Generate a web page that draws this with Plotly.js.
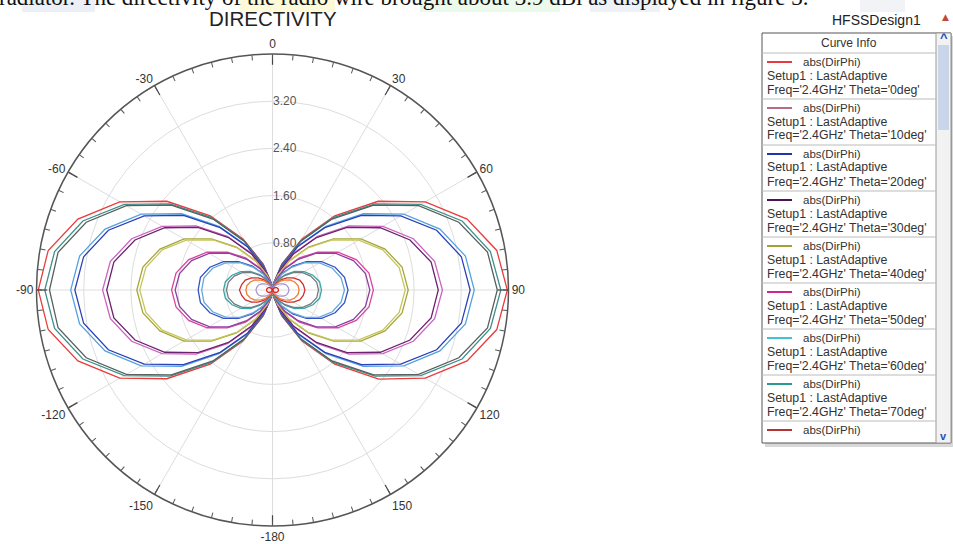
<!DOCTYPE html>
<html><head><meta charset="utf-8">
<script src="https://cdn.plot.ly/plotly-3.0.1.min.js"></script>
<style>html,body{margin:0;padding:0;background:#fff;}#chart{width:953px;height:544px;}</style>
</head><body><div id="chart"></div>
<script>
// Phi angles (deg)
const phi = [-180,-170,-160,-150,-140,-130,-120,-110,-100,-90,-80,-70,-60,-50,-40,-30,-20,-10,0,10,20,30,40,50,60,70,80,90,100,110,120,130,140,150,160,170,180];

// abs(DirPhi) values, one array per curve (largest to smallest)
const c01 = [0,0.12,0.47,1.00,1.64,2.34,2.99,3.51,3.86,3.97,3.86,3.51,2.99,2.34,1.64,1.00,0.47,0.12,0,0.12,0.47,1.00,1.64,2.34,2.99,3.51,3.86,3.98,3.86,3.51,2.99,2.35,1.64,1.00,0.47,0.12,0];
const c02 = [0,0.12,0.45,0.97,1.60,2.27,2.90,3.42,3.75,3.86,3.75,3.42,2.90,2.27,1.60,0.97,0.45,0.12,0,0.12,0.45,0.97,1.60,2.27,2.90,3.42,3.75,3.87,3.75,3.42,2.90,2.27,1.60,0.97,0.45,0.12,0];
const c03 = [0,0.11,0.45,0.95,1.57,2.24,2.86,3.36,3.69,3.78,3.69,3.36,2.86,2.24,1.57,0.95,0.45,0.11,0,0.11,0.45,0.95,1.57,2.24,2.86,3.36,3.70,3.81,3.70,3.36,2.86,2.24,1.57,0.95,0.45,0.11,0];
const c04 = [0,0.10,0.40,0.86,1.41,2.01,2.57,3.02,3.32,3.42,3.32,3.02,2.57,2.01,1.41,0.86,0.40,0.10,0,0.10,0.40,0.86,1.41,2.01,2.57,3.02,3.32,3.42,3.32,3.02,2.57,2.01,1.41,0.86,0.40,0.10,0];
const c05 = [0,0.10,0.39,0.84,1.38,1.97,2.51,2.96,3.25,3.35,3.25,2.96,2.51,1.97,1.38,0.84,0.39,0.10,0,0.10,0.39,0.84,1.38,1.97,2.51,2.96,3.25,3.35,3.25,2.96,2.51,1.97,1.38,0.84,0.39,0.10,0];
const c06 = [0,0.09,0.34,0.72,1.19,1.69,2.16,2.54,2.79,2.88,2.79,2.54,2.16,1.69,1.19,0.72,0.34,0.09,0,0.09,0.34,0.72,1.19,1.69,2.16,2.54,2.79,2.88,2.79,2.54,2.16,1.69,1.19,0.72,0.34,0.09,0];
const c07 = [0,0.08,0.33,0.70,1.16,1.65,2.11,2.48,2.73,2.81,2.73,2.48,2.11,1.65,1.16,0.70,0.33,0.08,0,0.08,0.33,0.70,1.16,1.65,2.11,2.48,2.73,2.81,2.73,2.48,2.11,1.65,1.16,0.70,0.33,0.08,0];
const c08 = [0,0.07,0.27,0.58,0.95,1.35,1.73,2.03,2.23,2.30,2.23,2.03,1.73,1.35,0.95,0.58,0.27,0.07,0,0.07,0.27,0.58,0.95,1.35,1.73,2.03,2.23,2.30,2.23,2.03,1.73,1.35,0.95,0.58,0.27,0.07,0];
const c09 = [0,0.07,0.26,0.56,0.93,1.32,1.69,1.99,2.18,2.25,2.18,1.99,1.69,1.32,0.93,0.56,0.26,0.07,0,0.07,0.26,0.56,0.93,1.32,1.69,1.99,2.18,2.25,2.18,1.99,1.69,1.32,0.93,0.56,0.26,0.07,0];
const c10 = [0,0.05,0.20,0.43,0.71,1.00,1.28,1.51,1.66,1.71,1.66,1.51,1.28,1.00,0.71,0.43,0.20,0.05,0,0.05,0.20,0.43,0.71,1.00,1.28,1.51,1.66,1.71,1.66,1.51,1.28,1.00,0.71,0.43,0.20,0.05,0];
const c11 = [0,0.05,0.19,0.41,0.68,0.97,1.24,1.46,1.60,1.65,1.60,1.46,1.24,0.97,0.68,0.41,0.19,0.05,0,0.05,0.19,0.41,0.68,0.97,1.24,1.46,1.60,1.65,1.60,1.46,1.24,0.97,0.68,0.41,0.19,0.05,0];
const c12 = [0,0.04,0.15,0.32,0.53,0.75,0.96,1.13,1.24,1.26,1.24,1.13,0.96,0.75,0.53,0.32,0.15,0.04,0,0.04,0.15,0.32,0.53,0.75,0.96,1.13,1.24,1.28,1.24,1.13,0.96,0.75,0.53,0.32,0.15,0.04,0];
const c13 = [0,0.04,0.14,0.31,0.50,0.72,0.92,1.08,1.18,1.20,1.18,1.08,0.92,0.72,0.50,0.31,0.14,0.04,0,0.04,0.14,0.31,0.50,0.72,0.92,1.08,1.18,1.22,1.18,1.08,0.92,0.72,0.50,0.31,0.14,0.04,0];
const c14 = [0,0.02,0.10,0.21,0.34,0.49,0.62,0.73,0.81,0.83,0.81,0.73,0.62,0.49,0.34,0.21,0.10,0.02,0,0.02,0.10,0.21,0.34,0.49,0.62,0.73,0.81,0.83,0.81,0.73,0.62,0.49,0.34,0.21,0.10,0.02,0];
const c15 = [0,0.02,0.09,0.20,0.32,0.46,0.59,0.69,0.76,0.78,0.76,0.69,0.59,0.46,0.32,0.20,0.09,0.02,0,0.02,0.09,0.20,0.32,0.46,0.59,0.69,0.76,0.78,0.76,0.69,0.59,0.46,0.32,0.20,0.09,0.02,0];
const c16 = [0,0.02,0.06,0.14,0.23,0.32,0.41,0.49,0.53,0.56,0.53,0.49,0.41,0.32,0.23,0.14,0.06,0.02,0,0.02,0.06,0.14,0.23,0.32,0.41,0.49,0.53,0.55,0.53,0.49,0.41,0.32,0.23,0.14,0.06,0.02,0];
const c17 = [0,0.01,0.05,0.11,0.19,0.26,0.34,0.40,0.44,0.45,0.44,0.40,0.34,0.26,0.19,0.11,0.05,0.01,0,0.01,0.05,0.11,0.19,0.26,0.34,0.40,0.44,0.45,0.44,0.40,0.34,0.26,0.19,0.11,0.05,0.01,0];
const c18 = [0,0.01,0.03,0.07,0.12,0.16,0.21,0.25,0.27,0.28,0.27,0.25,0.21,0.16,0.12,0.07,0.03,0.01,0,0.01,0.03,0.07,0.12,0.16,0.21,0.25,0.27,0.28,0.27,0.25,0.21,0.16,0.12,0.07,0.03,0.01,0];
const c19 = [0,0.00,0.01,0.03,0.04,0.06,0.08,0.09,0.10,0.10,0.10,0.09,0.08,0.06,0.04,0.03,0.01,0.00,0,0.00,0.01,0.03,0.04,0.06,0.08,0.09,0.10,0.10,0.10,0.09,0.08,0.06,0.04,0.03,0.01,0.00,0];

const curves = [c01,c02,c03,c04,c05,c06,c07,c08,c09,c10,c11,c12,c13,c14,c15,c16,c17,c18,c19];
const curveColors = ['#ec3b3b','#3f8f8b','#56625f','#55a2e0','#2b40b8','#cc62c2','#6c226c','#a6a63a','#c6c65c','#d8469e','#8e40a2','#3452c8','#64a8d8','#3aa5a5','#737c82','#cc3030','#f07c32','#a898d0','#e02222'];

// Legend (Curve Info) entries
const legendThetas = ['0deg','10deg','20deg','30deg','40deg','50deg','60deg','70deg','80deg'];
const legendColors = ['#e8393f','#b56a86','#2233aa','#4a1452','#a3a334','#d0258e','#44c2d2','#2a9a92','#b33434'];

// Angular tick labels
const angTickVals = [0,30,60,90,120,150,180,210,240,270,300,330];
const angTickText = ['0','30','60','90','120','150','-180','-150','-120','-90','-60','-30'];
const minorTickVals = [];
for (let a = 0; a < 360; a += 5) minorTickVals.push(a);
const radTickVals = [0.8,1.6,2.4,3.2];
const radTickText = ['0.80','1.60','2.40','3.20'];

const W = 953, H = 544;
const px = x => x / W;
const py = y => 1 - y / H;

const cx = 272.5, cy = 290, R = 236;

const traces = curves.map((r, i) => ({
  type: 'scatterpolar', mode: 'lines', r: r, theta: phi, subplot: 'polar',
  line: {color: curveColors[i], width: 1.3}, showlegend: false, hoverinfo: 'skip'
}));
traces.push({type: 'scatterpolar', mode: 'markers', r: [0], theta: [0], subplot: 'polar2',
  marker: {opacity: 0}, showlegend: false, hoverinfo: 'skip'});

const shapes = [];
const annotations = [];

// faint highlight boxes behind cut-off sentence
[[22,95,'rgba(200,210,225,0.35)'],[240,335,'rgba(250,245,170,0.45)'],[420,560,'rgba(200,240,200,0.35)'],[590,660,'rgba(200,210,225,0.3)'],[860,905,'rgba(210,215,225,0.3)']].forEach(h => {
  shapes.push({type:'rect', xref:'paper', yref:'paper', x0:px(h[0]), x1:px(h[1]), y0:py(12), y1:py(0), fillcolor:h[2], line:{width:0}, layer:'below'});
});

annotations.push({xref:'paper', yref:'paper', x:px(-3), y:py(12), xanchor:'left', yanchor:'bottom', showarrow:false,
  text:'radiator. The directivity of the radio wire brought about 3.9 dBi as displayed in figure 3.',
  font:{family:'Liberation Serif, Times New Roman, serif', size:23, color:'#111'}});
annotations.push({xref:'paper', yref:'paper', x:px(cx), y:py(19), xanchor:'center', yanchor:'middle', showarrow:false,
  text:'DIRECTIVITY', font:{family:'Liberation Sans, Arial, sans-serif', size:20.5, color:'#222'}});
annotations.push({xref:'paper', yref:'paper', x:px(923), y:py(20), xanchor:'right', yanchor:'middle', showarrow:false,
  text:'HFSSDesign1', font:{family:'Liberation Sans, Arial, sans-serif', size:14, color:'#222'}});
annotations.push({xref:'paper', yref:'paper', x:px(945), y:py(17), xanchor:'center', yanchor:'middle', showarrow:false,
  text:'▲', font:{family:'DejaVu Sans', size:9, color:'#c04a3a'}});

// Legend box
shapes.push({type:'rect', xref:'paper', yref:'paper', x0:px(765), x1:px(953), y0:py(447), y1:py(36), fillcolor:'#d8d8d8', line:{width:0}});
shapes.push({type:'rect', xref:'paper', yref:'paper', x0:px(762), x1:px(951), y0:py(443), y1:py(33), fillcolor:'#ffffff', line:{color:'#555', width:1}});
// scrollbar
shapes.push({type:'rect', xref:'paper', yref:'paper', x0:px(936), x1:px(951), y0:py(443), y1:py(33), fillcolor:'#f2f2f2', line:{color:'#999', width:1}});
shapes.push({type:'rect', xref:'paper', yref:'paper', x0:px(938), x1:px(949), y0:py(130), y1:py(45), fillcolor:'#c9d6ea', line:{width:0}});
annotations.push({xref:'paper', yref:'paper', x:px(943.5), y:py(38), xanchor:'center', yanchor:'middle', showarrow:false,
  text:'<b>^</b>', font:{family:'Liberation Sans', size:13, color:'#2050c0'}});
annotations.push({xref:'paper', yref:'paper', x:px(943.5), y:py(436), xanchor:'center', yanchor:'middle', showarrow:false,
  text:'<b>v</b>', font:{family:'Liberation Sans', size:11, color:'#2050c0'}});

annotations.push({xref:'paper', yref:'paper', x:px(849), y:py(43), xanchor:'center', yanchor:'middle', showarrow:false,
  text:'Curve Info', font:{family:'Liberation Sans, Arial', size:12, color:'#333'}});
shapes.push({type:'line', xref:'paper', yref:'paper', x0:px(762), x1:px(936), y0:py(53), y1:py(53), line:{color:'#bbb', width:1}});

const lf1 = {family:'Liberation Sans, Arial', size:11.5, color:'#333'};
const lf = {family:'Liberation Sans, Arial', size:12.3, color:'#333'};
legendThetas.forEach((t, i) => {
  const y0 = 62 + 46 * i;
  shapes.push({type:'line', xref:'paper', yref:'paper', x0:px(767), x1:px(792), y0:py(y0), y1:py(y0), line:{color:legendColors[i], width:2}});
  annotations.push({xref:'paper', yref:'paper', x:px(801), y:py(y0), xanchor:'left', yanchor:'middle', showarrow:false, text:'abs(DirPhi)', font:lf1});
  if (y0 + 13 < 441) annotations.push({xref:'paper', yref:'paper', x:px(765), y:py(y0 + 13.5), xanchor:'left', yanchor:'middle', showarrow:false, text:'Setup1 : LastAdaptive', font:lf});
  if (y0 + 27 < 441) annotations.push({xref:'paper', yref:'paper', x:px(765), y:py(y0 + 27.5), xanchor:'left', yanchor:'middle', showarrow:false, text:"Freq='2.4GHz' Theta='" + t + "'", font:lf});
  if (y0 + 37 < 441) shapes.push({type:'line', xref:'paper', yref:'paper', x0:px(762), x1:px(936), y0:py(y0 + 37), y1:py(y0 + 37), line:{color:'#bbb', width:1}});
});

const dom = {x:[px(cx - R), px(cx + R)], y:[py(cy + R), py(cy - R)]};

const layout = {
  width: W, height: H,
  margin: {l:0, r:0, t:0, b:0},
  paper_bgcolor: '#ffffff',
  showlegend: false,
  polar: {
    domain: dom, bgcolor: 'rgba(0,0,0,0)',
    angularaxis: {rotation: 90, direction: 'clockwise', tickmode: 'array', tickvals: angTickVals, ticktext: angTickText,
      ticks: 'inside', ticklen: 10, tickwidth: 1.2, tickcolor: '#444', showline: true, linecolor: '#555', linewidth: 1.5,
      gridcolor: '#dddddd', gridwidth: 1, tickfont: {family: 'Liberation Sans, Arial', size: 12, color: '#333'}},
    radialaxis: {range: [0, 4], tickmode: 'array', tickvals: radTickVals, ticktext: radTickText, showline: false, ticks: '',
      gridcolor: '#dddddd', gridwidth: 1, angle: 90, tickangle: 90, side: 'clockwise',
      tickfont: {family: 'Liberation Sans, Arial', size: 12, color: '#555'}}
  },
  polar2: {
    domain: dom, bgcolor: 'rgba(0,0,0,0)',
    angularaxis: {rotation: 90, direction: 'clockwise', tickmode: 'array', tickvals: minorTickVals,
      ticks: 'inside', ticklen: 5, tickwidth: 1, tickcolor: '#555', showticklabels: false, showline: false, showgrid: false},
    radialaxis: {visible: false, range: [0, 4]}
  },
  shapes: shapes,
  annotations: annotations
};

Plotly.newPlot('chart', traces, layout, {staticPlot: true, displayModeBar: false});
</script></body></html>
